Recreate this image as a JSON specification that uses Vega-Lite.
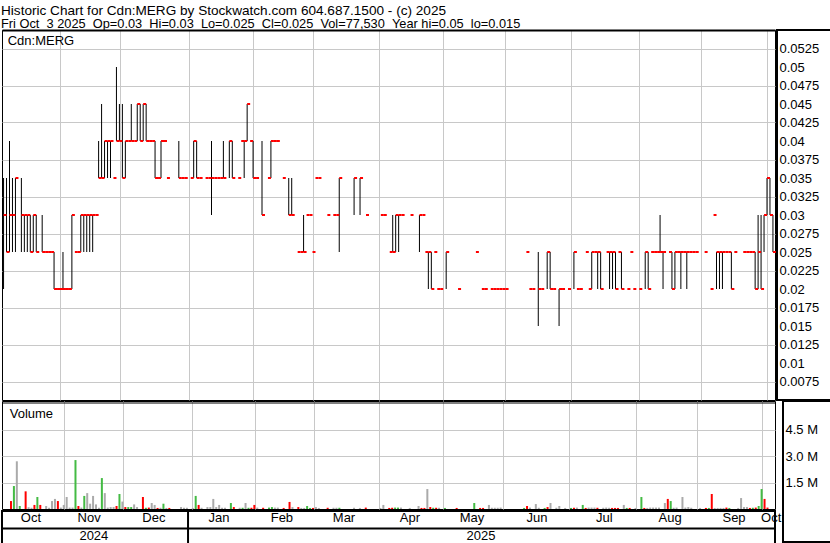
{
  "$schema": "https://vega.github.io/schema/vega-lite/v6.json",
  "background": "white",
  "padding": {"left": 0, "top": 3, "right": 0, "bottom": 0},
  "title": {
    "text": "Historic Chart for Cdn:MERG by Stockwatch.com 604.687.1500 - (c) 2025",
    "subtitle": "Fri Oct\u00a0\u00a03 2025\u00a0\u00a0Op=0.03\u00a0\u00a0Hi=0.03\u00a0\u00a0Lo=0.025\u00a0\u00a0Cl=0.025\u00a0\u00a0Vol=77,530\u00a0\u00a0Year hi=0.05\u00a0\u00a0lo=0.015",
    "anchor": "start", "font": "Liberation Sans", "fontSize": 13.6, "fontWeight": "normal", "color": "black",
    "subtitleFont": "Liberation Sans", "subtitleFontSize": 12.8, "subtitleColor": "black", "subtitlePadding": 0.8,
    "offset": -2, "dx": 1
  },
  "config": {
    "font": "Liberation Sans",
    "view": {"stroke": "black", "strokeWidth": 1},
    "axis": {"labelFont": "Liberation Sans", "labelFontSize": 13, "labelColor": "black", "gridColor": "#c8c8c8", "gridOpacity": 1, "gridWidth": 1}
  },
  "datasets": {
    "px": [
      {"d":4,"h":0.035,"l":0.02,"c":0.03},{"d":5,"h":0.035,"l":0.025,"c":0.025},{"d":6,"h":0.04,"l":0.025,"c":0.03},{"d":7,"h":0.035,"l":0.025,"c":0.03},{"d":8,"h":0.035,"l":0.025,"c":0.035},
      {"d":10,"h":0.035,"l":0.025,"c":0.03},{"d":11,"h":0.03,"l":0.025,"c":0.03},{"d":12,"h":0.03,"l":0.025,"c":0.03},{"d":13,"h":0.03,"l":0.025,"c":0.025},{"d":14,"h":0.03,"l":0.025,"c":0.03},{"d":15,"h":0.03,"l":0.025,"c":0.025},
      {"d":17,"h":0.03,"l":0.025,"c":0.025},{"d":18,"c":0.025},{"d":19,"c":0.025},{"d":20,"c":0.025},{"d":21,"h":0.025,"l":0.02,"c":0.02},{"d":22,"c":0.02},{"d":23,"c":0.02},{"d":24,"h":0.025,"l":0.02,"c":0.02},{"d":25,"c":0.02},{"d":26,"c":0.02},
      {"d":27,"h":0.03,"l":0.02,"c":0.03},{"d":28,"c":0.025},{"d":29,"c":0.025},{"d":30,"h":0.03,"l":0.025,"c":0.03},{"d":31,"h":0.03,"l":0.025,"c":0.03},{"d":32,"h":0.03,"l":0.025,"c":0.03},{"d":33,"h":0.03,"l":0.025,"c":0.03},{"d":34,"h":0.03,"l":0.025,"c":0.03},{"d":35,"c":0.03},
      {"d":36,"h":0.04,"l":0.035,"c":0.035},{"d":37,"h":0.045,"l":0.035,"c":0.035},{"d":38,"h":0.04,"l":0.035,"c":0.04},{"d":39,"h":0.04,"l":0.035,"c":0.04},{"d":40,"h":0.04,"l":0.035,"c":0.04},{"d":41,"c":0.035},
      {"d":42,"h":0.05,"l":0.04,"c":0.04},{"d":43,"h":0.045,"l":0.04,"c":0.04},{"d":44,"h":0.045,"l":0.035,"c":0.035},{"d":45,"h":0.04,"l":0.035,"c":0.04},{"d":46,"c":0.04},{"d":47,"h":0.045,"l":0.04,"c":0.04},{"d":48,"c":0.04},
      {"d":49,"h":0.045,"l":0.04,"c":0.045},{"d":50,"h":0.045,"l":0.04,"c":0.04},{"d":51,"h":0.045,"l":0.04,"c":0.045},{"d":52,"h":0.045,"l":0.04,"c":0.04},{"d":53,"c":0.04},{"d":54,"c":0.04},
      {"d":55,"h":0.04,"l":0.035,"c":0.035},{"d":56,"c":0.035},{"d":57,"h":0.04,"l":0.035,"c":0.04},{"d":58,"c":0.04},{"d":59,"c":0.035},
      {"d":63,"h":0.04,"l":0.035,"c":0.035},{"d":64,"c":0.035},{"d":65,"c":0.035},{"d":67,"c":0.035},{"d":68,"h":0.04,"l":0.035,"c":0.04},{"d":69,"h":0.04,"l":0.035,"c":0.035},{"d":70,"c":0.035},
      {"d":72,"c":0.035},{"d":73,"c":0.035},{"d":74,"h":0.04,"l":0.03,"c":0.035},{"d":75,"c":0.035},{"d":76,"c":0.035},{"d":77,"c":0.035},{"d":78,"h":0.04,"l":0.035,"c":0.035},
      {"d":80,"h":0.04,"l":0.035,"c":0.04},{"d":81,"h":0.04,"l":0.035,"c":0.035},{"d":83,"c":0.035},{"d":84,"c":0.04},{"d":85,"h":0.04,"l":0.035,"c":0.04},{"d":86,"h":0.045,"l":0.04,"c":0.045},{"d":87,"c":0.04},{"d":88,"h":0.04,"l":0.035,"c":0.035},{"d":89,"c":0.035},
      {"d":91,"h":0.04,"l":0.03,"c":0.03},{"d":93,"c":0.035},{"d":94,"h":0.04,"l":0.035,"c":0.04},{"d":95,"c":0.04},{"d":96,"c":0.04},{"d":98,"c":0.035},
      {"d":100,"h":0.035,"l":0.03,"c":0.03},{"d":101,"h":0.035,"l":0.03,"c":0.03},{"d":103,"c":0.025},{"d":104,"c":0.025},{"d":105,"h":0.03,"l":0.025,"c":0.025},{"d":106,"c":0.03},{"d":107,"c":0.03},{"d":108,"c":0.025},{"d":109,"c":0.035},{"d":110,"c":0.035},
      {"d":113,"c":0.03},{"d":115,"c":0.03},{"d":116,"c":0.03},{"d":117,"h":0.035,"l":0.025,"c":0.035},{"d":122,"h":0.035,"l":0.03,"c":0.035},{"d":124,"h":0.035,"l":0.03,"c":0.035},{"d":126,"c":0.03},
      {"d":131,"c":0.03},{"d":132,"c":0.03},{"d":134,"c":0.025},{"d":135,"h":0.03,"l":0.025,"c":0.025},{"d":136,"h":0.03,"l":0.025,"c":0.03},{"d":137,"h":0.03,"l":0.025,"c":0.03},{"d":138,"c":0.03},{"d":141,"c":0.03},
      {"d":144,"h":0.03,"l":0.025,"c":0.03},{"d":145,"c":0.03},{"d":146,"c":0.025},{"d":147,"h":0.025,"l":0.02,"c":0.025},{"d":148,"h":0.025,"l":0.02,"c":0.02},{"d":149,"c":0.025},{"d":150,"c":0.02},{"d":151,"c":0.02},{"d":153,"h":0.025,"l":0.02,"c":0.025},
      {"d":157,"c":0.02},{"d":163,"c":0.025},{"d":165,"c":0.02},{"d":166,"c":0.02},{"d":168,"c":0.02},{"d":169,"c":0.02},{"d":170,"c":0.02},{"d":171,"c":0.02},{"d":172,"c":0.02},{"d":173,"c":0.02},
      {"d":180,"c":0.025},{"d":181,"c":0.02},{"d":182,"c":0.02},{"d":184,"h":0.025,"l":0.015,"c":0.02},{"d":185,"c":0.02},{"d":187,"h":0.025,"l":0.02,"c":0.025},{"d":188,"h":0.025,"l":0.02,"c":0.02},{"d":189,"c":0.02},
      {"d":191,"h":0.02,"l":0.015,"c":0.02},{"d":192,"c":0.02},{"d":194,"c":0.02},{"d":196,"h":0.025,"l":0.02,"c":0.025},{"d":197,"c":0.02},{"d":198,"c":0.02},{"d":200,"c":0.025},{"d":201,"c":0.02},
      {"d":202,"h":0.025,"l":0.02,"c":0.025},{"d":203,"c":0.025},{"d":204,"h":0.025,"l":0.02,"c":0.025},{"d":205,"h":0.025,"l":0.02,"c":0.02},{"d":207,"c":0.025},{"d":208,"h":0.025,"l":0.02,"c":0.025},{"d":209,"h":0.025,"l":0.02,"c":0.025},{"d":210,"h":0.025,"l":0.02,"c":0.02},
      {"d":211,"c":0.025},{"d":212,"h":0.025,"l":0.02,"c":0.02},{"d":214,"c":0.02},{"d":215,"c":0.025},{"d":216,"c":0.02},{"d":218,"c":0.02},{"d":220,"h":0.025,"l":0.02,"c":0.025},{"d":221,"h":0.025,"l":0.02,"c":0.02},
      {"d":222,"c":0.025},{"d":223,"c":0.025},{"d":224,"c":0.025},{"d":225,"h":0.03,"l":0.025,"c":0.025},{"d":226,"h":0.025,"l":0.02,"c":0.025},{"d":228,"c":0.025},{"d":229,"h":0.025,"l":0.02,"c":0.02},{"d":230,"h":0.025,"l":0.02,"c":0.025},
      {"d":231,"c":0.025},{"d":232,"h":0.025,"l":0.02,"c":0.025},{"d":233,"c":0.025},{"d":234,"h":0.025,"l":0.02,"c":0.025},{"d":235,"c":0.025},{"d":236,"c":0.025},{"d":237,"c":0.025},{"d":240,"c":0.025},
      {"d":242,"c":0.02},{"d":243,"c":0.03},{"d":244,"h":0.025,"l":0.02,"c":0.025},{"d":245,"h":0.025,"l":0.02,"c":0.025},{"d":246,"h":0.025,"l":0.02,"c":0.025},{"d":247,"c":0.025},{"d":248,"c":0.025},{"d":249,"h":0.025,"l":0.02,"c":0.02},{"d":250,"c":0.025},
      {"d":253,"c":0.025},{"d":254,"c":0.025},{"d":255,"c":0.025},{"d":256,"c":0.025},{"d":257,"h":0.025,"l":0.02,"c":0.02},{"d":258,"h":0.03,"l":0.02,"c":0.025},{"d":259,"h":0.03,"l":0.02,"c":0.02},
      {"d":260,"h":0.03,"l":0.025,"c":0.03},{"d":261,"h":0.035,"l":0.03,"c":0.035},{"d":262,"h":0.035,"l":0.03,"c":0.03},{"d":263,"h":0.03,"l":0.025,"c":0.025}
    ],
    "vol": [
      {"d":5,"v":450000,"k":"dn"},{"d":6,"v":1300000,"k":"up"},{"d":7,"v":2700000,"k":"eq"},{"d":8,"v":170000,"k":"up"},{"d":10,"v":1000000,"k":"dn"},{"d":11,"v":100000,"k":"eq"},{"d":12,"v":70000,"k":"eq"},{"d":13,"v":230000,"k":"dn"},{"d":14,"v":680000,"k":"up"},{"d":15,"v":230000,"k":"dn"},
      {"d":17,"v":170000,"k":"eq"},{"d":18,"v":70000,"k":"eq"},{"d":19,"v":450000,"k":"eq"},{"d":20,"v":570000,"k":"eq"},{"d":21,"v":450000,"k":"dn"},{"d":22,"v":80000,"k":"eq"},{"d":23,"v":230000,"k":"eq"},{"d":24,"v":680000,"k":"eq"},{"d":25,"v":80000,"k":"eq"},{"d":26,"v":80000,"k":"eq"},
      {"d":27,"v":2770000,"k":"up"},{"d":28,"v":170000,"k":"dn"},{"d":29,"v":80000,"k":"eq"},{"d":30,"v":740000,"k":"up"},{"d":31,"v":900000,"k":"eq"},{"d":32,"v":300000,"k":"eq"},{"d":33,"v":740000,"k":"eq"},{"d":34,"v":260000,"k":"eq"},{"d":35,"v":70000,"k":"eq"},
      {"d":36,"v":1750000,"k":"up"},{"d":37,"v":900000,"k":"eq"},{"d":38,"v":80000,"k":"eq"},{"d":39,"v":110000,"k":"eq"},{"d":40,"v":110000,"k":"eq"},{"d":41,"v":170000,"k":"dn"},{"d":42,"v":850000,"k":"up"},{"d":43,"v":420000,"k":"eq"},{"d":44,"v":110000,"k":"dn"},
      {"d":45,"v":110000,"k":"up"},{"d":46,"v":110000,"k":"up"},{"d":47,"v":260000,"k":"eq"},{"d":48,"v":110000,"k":"eq"},{"d":50,"v":680000,"k":"dn"},{"d":51,"v":70000,"k":"up"},{"d":52,"v":80000,"k":"dn"},{"d":53,"v":340000,"k":"eq"},{"d":54,"v":230000,"k":"eq"},
      {"d":55,"v":60000,"k":"dn"},{"d":56,"v":70000,"k":"eq"},{"d":57,"v":300000,"k":"up"},{"d":58,"v":60000,"k":"eq"},{"d":59,"v":60000,"k":"dn"},{"d":63,"v":110000,"k":"eq"},{"d":64,"v":70000,"k":"eq"},{"d":65,"v":70000,"k":"eq"},{"d":67,"v":60000,"k":"eq"},
      {"d":68,"v":740000,"k":"up"},{"d":69,"v":230000,"k":"dn"},{"d":70,"v":70000,"k":"eq"},{"d":72,"v":110000,"k":"eq"},{"d":73,"v":110000,"k":"eq"},{"d":74,"v":570000,"k":"eq"},{"d":75,"v":110000,"k":"eq"},{"d":76,"v":230000,"k":"eq"},{"d":77,"v":70000,"k":"eq"},{"d":78,"v":70000,"k":"eq"},
      {"d":80,"v":340000,"k":"up"},{"d":81,"v":110000,"k":"dn"},{"d":83,"v":70000,"k":"eq"},{"d":84,"v":70000,"k":"up"},{"d":85,"v":340000,"k":"eq"},{"d":86,"v":70000,"k":"up"},{"d":87,"v":70000,"k":"dn"},{"d":88,"v":230000,"k":"dn"},{"d":89,"v":80000,"k":"eq"},
      {"d":91,"v":70000,"k":"dn"},{"d":93,"v":80000,"k":"up"},{"d":94,"v":110000,"k":"up"},{"d":95,"v":80000,"k":"eq"},{"d":96,"v":80000,"k":"eq"},{"d":98,"v":60000,"k":"dn"},{"d":100,"v":400000,"k":"dn"},{"d":101,"v":110000,"k":"eq"},
      {"d":103,"v":110000,"k":"dn"},{"d":104,"v":60000,"k":"eq"},{"d":105,"v":60000,"k":"eq"},{"d":106,"v":170000,"k":"up"},{"d":107,"v":60000,"k":"up"},{"d":108,"v":60000,"k":"dn"},{"d":109,"v":110000,"k":"eq"},{"d":110,"v":60000,"k":"eq"},
      {"d":113,"v":70000,"k":"dn"},{"d":115,"v":70000,"k":"eq"},{"d":116,"v":70000,"k":"eq"},{"d":117,"v":70000,"k":"up"},{"d":122,"v":70000,"k":"eq"},{"d":124,"v":60000,"k":"eq"},{"d":126,"v":80000,"k":"dn"},
      {"d":131,"v":60000,"k":"eq"},{"d":132,"v":230000,"k":"eq"},{"d":134,"v":60000,"k":"dn"},{"d":135,"v":70000,"k":"dn"},{"d":136,"v":80000,"k":"up"},{"d":137,"v":80000,"k":"up"},{"d":138,"v":80000,"k":"eq"},{"d":141,"v":60000,"k":"eq"},
      {"d":144,"v":170000,"k":"eq"},{"d":145,"v":60000,"k":"dn"},{"d":146,"v":60000,"k":"dn"},{"d":147,"v":1130000,"k":"eq"},{"d":148,"v":110000,"k":"dn"},{"d":149,"v":70000,"k":"up"},{"d":150,"v":70000,"k":"dn"},{"d":151,"v":70000,"k":"eq"},{"d":153,"v":60000,"k":"up"},
      {"d":157,"v":60000,"k":"dn"},{"d":163,"v":340000,"k":"up"},{"d":165,"v":60000,"k":"dn"},{"d":166,"v":60000,"k":"dn"},{"d":168,"v":230000,"k":"eq"},{"d":169,"v":70000,"k":"eq"},{"d":170,"v":70000,"k":"eq"},{"d":171,"v":70000,"k":"eq"},{"d":172,"v":80000,"k":"eq"},
      {"d":180,"v":60000,"k":"up"},{"d":181,"v":170000,"k":"dn"},{"d":182,"v":80000,"k":"eq"},{"d":184,"v":280000,"k":"eq"},{"d":185,"v":70000,"k":"eq"},{"d":187,"v":60000,"k":"up"},{"d":188,"v":110000,"k":"dn"},{"d":189,"v":340000,"k":"eq"},
      {"d":191,"v":70000,"k":"eq"},{"d":192,"v":170000,"k":"eq"},{"d":194,"v":60000,"k":"eq"},{"d":196,"v":60000,"k":"up"},{"d":197,"v":70000,"k":"dn"},{"d":198,"v":80000,"k":"eq"},{"d":200,"v":230000,"k":"up"},{"d":201,"v":60000,"k":"dn"},
      {"d":202,"v":80000,"k":"eq"},{"d":203,"v":80000,"k":"eq"},{"d":204,"v":80000,"k":"eq"},{"d":205,"v":70000,"k":"dn"},{"d":207,"v":70000,"k":"eq"},{"d":208,"v":80000,"k":"eq"},{"d":209,"v":70000,"k":"eq"},{"d":210,"v":60000,"k":"dn"},{"d":211,"v":60000,"k":"dn"},{"d":212,"v":60000,"k":"dn"},
      {"d":214,"v":230000,"k":"eq"},{"d":215,"v":60000,"k":"up"},{"d":216,"v":60000,"k":"dn"},{"d":218,"v":60000,"k":"eq"},{"d":220,"v":680000,"k":"up"},{"d":221,"v":60000,"k":"dn"},{"d":222,"v":60000,"k":"eq"},{"d":223,"v":80000,"k":"eq"},{"d":224,"v":80000,"k":"eq"},
      {"d":225,"v":80000,"k":"eq"},{"d":226,"v":80000,"k":"eq"},{"d":228,"v":340000,"k":"eq"},{"d":229,"v":570000,"k":"dn"},{"d":230,"v":450000,"k":"up"},{"d":231,"v":70000,"k":"eq"},{"d":232,"v":80000,"k":"eq"},{"d":234,"v":680000,"k":"eq"},
      {"d":235,"v":80000,"k":"eq"},{"d":236,"v":110000,"k":"eq"},{"d":237,"v":70000,"k":"eq"},{"d":240,"v":60000,"k":"eq"},{"d":242,"v":60000,"k":"dn"},{"d":243,"v":60000,"k":"up"},{"d":244,"v":850000,"k":"dn"},{"d":245,"v":60000,"k":"eq"},
      {"d":246,"v":60000,"k":"eq"},{"d":247,"v":60000,"k":"eq"},{"d":248,"v":60000,"k":"eq"},{"d":249,"v":80000,"k":"dn"},{"d":250,"v":60000,"k":"up"},{"d":253,"v":60000,"k":"eq"},{"d":254,"v":620000,"k":"eq"},{"d":255,"v":110000,"k":"eq"},{"d":256,"v":110000,"k":"eq"},
      {"d":257,"v":60000,"k":"dn"},{"d":258,"v":70000,"k":"up"},{"d":259,"v":80000,"k":"dn"},{"d":260,"v":170000,"k":"up"},{"d":261,"v":1130000,"k":"up"},{"d":262,"v":570000,"k":"dn"},{"d":263,"v":80000,"k":"dn"}
    ],
    "mon": [
      {"m":"Oct","d":13.2},{"m":"Nov","d":32.8},{"m":"Dec","d":54.6},{"m":"Jan","d":76.5},{"m":"Feb","d":97.7},{"m":"Mar","d":118.6},{"m":"Apr","d":140.8},
      {"m":"May","d":161.7},{"m":"Jun","d":183.6},{"m":"Jul","d":206.2},{"m":"Aug","d":228.4},{"m":"Sep","d":249.9},{"m":"Oct","d":262.4}
    ],
    "yr": [{"y":"2024","d":34.4},{"y":"2025","d":164.7}]
  },
  "spacing": -2,
  "vconcat": [
    {
      "spacing": -2,
      "hconcat": [
        {
          "width": 773, "height": 370,
          "layer": [
            {
              "data": {"name": "px"},
              "transform": [{"filter": "isValid(datum.h)"}],
              "mark": {"type": "rule", "color": "black", "strokeWidth": 1},
              "encoding": {
                "x": {"field": "d", "type": "quantitative", "title": null,
                  "scale": {"domain": [3.475, 263.69], "nice": false, "zero": false},
                  "axis": {"orient": "top", "values": [23, 43.2, 66.4, 88, 108.2, 130.4, 152, 172.8, 195.1, 218, 238.8, 261], "grid": true, "labels": false, "ticks": false, "domain": true, "domainColor": "black", "domainWidth": 2, "minExtent": 0, "maxExtent": 0}},
                "y": {"field": "l", "type": "quantitative", "title": null,
                  "scale": {"domain": [0.005, 0.055], "nice": false, "zero": false},
                  "axis": {"orient": "right", "values": [0.0075, 0.01, 0.0125, 0.015, 0.0175, 0.02, 0.0225, 0.025, 0.0275, 0.03, 0.0325, 0.035, 0.0375, 0.04, 0.0425, 0.045, 0.0475, 0.05, 0.0525], "grid": true, "labels": false, "ticks": false, "domain": false, "minExtent": 0, "maxExtent": 0}},
                "y2": {"field": "h"}
              }
            },
            {
              "data": {"name": "px"},
              "mark": {"type": "tick", "orient": "horizontal", "color": "#ff0000", "size": 3, "thickness": 2, "xOffset": 1.5, "opacity": 1},
              "encoding": {
                "x": {"field": "d", "type": "quantitative", "title": null},
                "y": {"field": "c", "type": "quantitative", "title": null}
              }
            },
            {
              "data": {"values": [{}]},
              "mark": {"type": "text", "text": "Cdn:MERG", "align": "left", "baseline": "middle", "fontSize": 13, "font": "Liberation Sans", "color": "black"},
              "encoding": {
                "x": {"datum": 5.4, "type": "quantitative", "title": null},
                "y": {"datum": 0.0535, "type": "quantitative", "title": null}
              }
            }
          ]
        },
        {
          "width": 55, "height": 370,
          "view": {"stroke": "black", "strokeWidth": 2},
          "data": {"values": [{}]},
          "mark": {"type": "rule", "opacity": 0},
          "encoding": {
            "y": {"datum": 0.03, "type": "quantitative", "title": null,
              "scale": {"domain": [0.005, 0.055], "nice": false, "zero": false},
              "axis": {"orient": "left", "values": [0.0075, 0.01, 0.0125, 0.015, 0.0175, 0.02, 0.0225, 0.025, 0.0275, 0.03, 0.0325, 0.035, 0.0375, 0.04, 0.0425, 0.045, 0.0475, 0.05, 0.0525], "labelExpr": "format(datum.value, '.4~f')", "labelAlign": "left", "labelPadding": -2, "tickSize": 0, "ticks": false, "domain": false, "grid": false, "labelOverlap": false, "labelFlush": false, "minExtent": 0, "maxExtent": 0}}
          }
        }
      ]
    },
    {
      "spacing": -2,
      "hconcat": [
        {
          "spacing": -1,
          "vconcat": [
            {
              "width": 773, "height": 108,
              "layer": [
                {
                  "data": {"name": "vol"},
                  "mark": {"type": "bar", "size": 2, "xOffset": -0.5},
                  "encoding": {
                    "x": {"field": "d", "type": "quantitative", "title": null,
                      "scale": {"domain": [3.475, 263.69], "nice": false, "zero": false},
                      "axis": {"values": [23, 43.2, 66.4, 88, 108.2, 130.4, 152, 172.8, 195.1, 218, 238.8, 261], "grid": true, "labels": false, "ticks": false, "domain": false, "minExtent": 0, "maxExtent": 0}},
                    "y": {"field": "v", "type": "quantitative", "title": null,
                      "scale": {"domain": [0, 6113208], "nice": false},
                      "axis": {"orient": "right", "values": [1500000, 3000000, 4500000], "grid": true, "labels": false, "ticks": false, "domain": false, "minExtent": 0, "maxExtent": 0}},
                    "color": {"field": "k", "type": "nominal", "legend": null,
                      "scale": {"domain": ["up", "dn", "eq"], "range": ["#44bb44", "#ff0000", "#aaaaaa"]}}
                  }
                },
                {
                  "data": {"values": [{}]},
                  "mark": {"type": "rule", "color": "black", "strokeWidth": 1},
                  "encoding": {"y": {"datum": 6000000, "type": "quantitative", "title": null}}
                },
                {
                  "data": {"values": [{}]},
                  "mark": {"type": "text", "text": "Volume", "align": "left", "baseline": "middle", "fontSize": 13, "font": "Liberation Sans", "color": "black"},
                  "encoding": {
                    "x": {"datum": 4.4, "type": "quantitative", "title": null},
                    "y": {"datum": 5380000, "type": "quantitative", "title": null}
                  }
                }
              ]
            },
            {
              "width": 773, "height": 33,
              "view": {"stroke": "black", "strokeWidth": 2},
              "layer": [
                {
                  "data": {"name": "mon"},
                  "mark": {"type": "text", "fontSize": 13, "font": "Liberation Sans", "color": "black", "baseline": "middle", "align": "center"},
                  "encoding": {
                    "x": {"field": "d", "type": "quantitative", "title": null, "axis": null,
                      "scale": {"domain": [3.475, 263.69], "nice": false, "zero": false}},
                    "y": {"datum": 1.55, "type": "quantitative", "title": null, "axis": null,
                      "scale": {"domain": [0, 2], "nice": false, "zero": false}},
                    "text": {"field": "m"}
                  }
                },
                {
                  "data": {"name": "yr"},
                  "mark": {"type": "text", "fontSize": 13, "font": "Liberation Sans", "color": "black", "baseline": "middle", "align": "center"},
                  "encoding": {
                    "x": {"field": "d", "type": "quantitative", "title": null, "axis": null},
                    "y": {"datum": 0.5, "type": "quantitative", "title": null, "axis": null},
                    "text": {"field": "y"}
                  }
                },
                {
                  "data": {"values": [{}]},
                  "mark": {"type": "rule", "color": "black", "strokeWidth": 2},
                  "encoding": {"y": {"datum": 0.94, "type": "quantitative", "title": null, "axis": null}}
                },
                {
                  "data": {"values": [{}]},
                  "mark": {"type": "rule", "color": "black", "strokeWidth": 2},
                  "encoding": {"x": {"datum": 66.1, "type": "quantitative", "title": null, "axis": null}}
                }
              ]
            }
          ]
        },
        {
          "width": 55, "height": 141,
          "view": {"stroke": "black", "strokeWidth": 2},
          "data": {"values": [{}]},
          "mark": {"type": "rule", "opacity": 0},
          "encoding": {
            "y": {"datum": 1000000, "type": "quantitative", "title": null,
              "scale": {"domain": [-1867925, 6113208], "nice": false, "zero": false},
              "axis": {"orient": "left", "values": [1500000, 3000000, 4500000], "labelExpr": "format(datum.value / 1000000, '.1f') + ' M'", "labelAlign": "left", "labelPadding": -2, "tickSize": 0, "ticks": false, "domain": false, "grid": false, "labelOverlap": false, "labelFlush": false, "minExtent": 0, "maxExtent": 0}}
          }
        }
      ]
    }
  ]
}
